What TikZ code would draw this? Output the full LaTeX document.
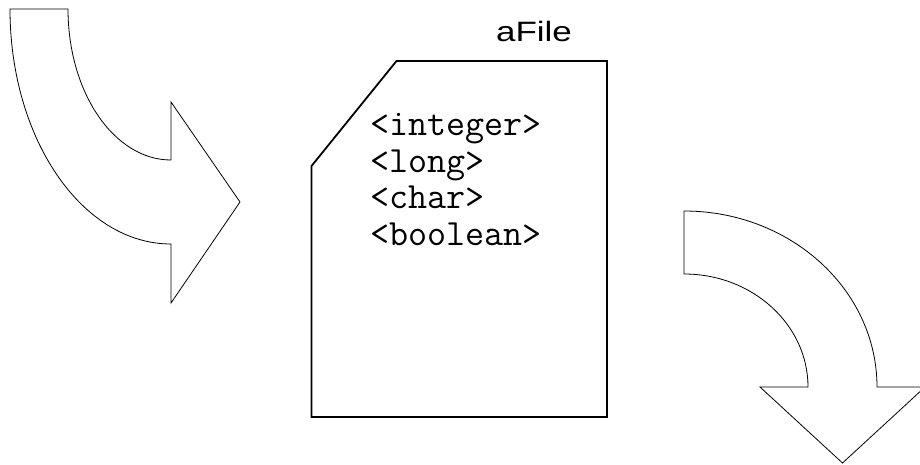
\documentclass[tikz,border=0pt]{standalone}
\usepackage{fontspec}
\setmainfont{Liberation Sans}
\begin{document}
\begin{tikzpicture}[x=1pt,y=-1pt,
  bentarrow/.style={draw=black,line width=0.8pt,line join=miter,fill=white},
  filebox/.style={draw=black,line width=1.8pt,line join=miter,fill=white},
  codeline/.style={anchor=base west,inner sep=0pt,font=\ttfamily\fontsize{37}{36}\selectfont},
  titletext/.style={anchor=base,inner sep=0pt,font=\fontsize{28}{32}\selectfont}]
\useasboundingbox (0,0) rectangle (920,465);

% incoming arrow: quarter-ellipse shaft bending to the right
\draw[bentarrow] (10,9) -- (68,9)
  .. controls (68,92.4) and (114.1,160) .. (171,160)
  -- (171,102) -- (240,202) -- (171,303) -- (171,244)
  .. controls (82.1,244) and (10,138.8) .. (10,9) -- cycle;

% outgoing arrow: shaft bending downwards
\draw[bentarrow] (684,211)
  .. controls (790.6,211) and (877,289.8) .. (877,387)
  -- (925,387) -- (842.5,463) -- (760,387) -- (808,387)
  .. controls (808,324.6) and (752.5,274) .. (684,274) -- cycle;

% the file with its clipped corner
\draw[filebox] (396.5,61) -- (607,61) -- (607,417) -- (311.5,417)
  -- (311.5,166) -- cycle;

\node[titletext] (title) at (534,41.7) {\scalebox{1.25}[1]{aFile}};

\node[codeline] (l1) at (370,136) {<integer>};
\node[codeline] (l2) at (370,172.5) {<long>};
\node[codeline] (l3) at (370,208.5) {<char>};
\node[codeline] (l4) at (370,245) {<boolean>};
\end{tikzpicture}
\end{document}
